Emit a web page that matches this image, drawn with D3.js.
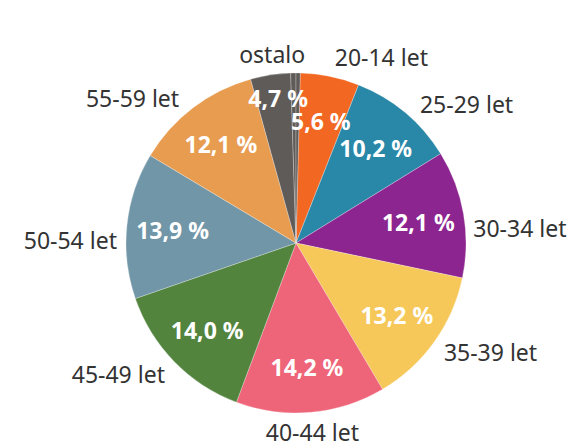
<!DOCTYPE html>
<html>
<head>
<meta charset="utf-8">
<script src="https://cdn.jsdelivr.net/npm/d3@7"></script>
<style>
  body { margin: 0; background: #fff; }
  svg { display: block; font-family: "Noto Sans", sans-serif; }
</style>
</head>
<body>
<svg id="chart" width="569" height="444"></svg>
<script>
// age groups, share of all (in %)
const categories = ["20-14 let", "25-29 let", "30-34 let", "35-39 let",
  "40-44 let", "45-49 let", "50-54 let", "55-59 let"];
const shares = [5.6, 10.2, 12.1, 13.2, 14.2, 14.0, 13.9, 12.1];
const colors = ["#f26722", "#2987a8", "#8c258f", "#f6c859",
  "#ee6478", "#52843e", "#7196a7", "#e89c50"];

// "ostalo" is made of a few tiny groups, drawn in one colour
const otherLabel = "ostalo";
const otherParts = [3.8, 0.5, 0.4];
const otherColor = "#5f5b58";

const width = 569, height = 444;
const cx = 296, cy = 243, radius = 170;

const fmt = d3.formatLocale({decimal: ",", thousands: ".", grouping: [3], currency: ["", " €"]})
  .format(".1f");

const svg = d3.select("#chart");
const g = svg.append("g").attr("transform", `translate(${cx},${cy})`);

// one row per drawn slice
let rows = categories.map((c, i) => ({group: c, value: shares[i], color: colors[i]}));
otherParts.forEach(v => rows.push({group: otherLabel, value: v, color: otherColor}));

// the last small part sits just across 12 o'clock
let total = d3.sum(rows, d => d.value);
let offset = otherParts[otherParts.length - 1] / total * 2 * Math.PI;

let pie = d3.pie()
  .sort(null)
  .value(d => d.value)
  .startAngle(offset)
  .endAngle(offset + 2 * Math.PI);

let arcs = pie(rows);
let arc = d3.arc().innerRadius(0).outerRadius(radius);

g.selectAll("path.slice")
  .data(arcs)
  .enter()
  .append("path")
  .attr("class", "slice")
  .attr("d", arc)
  .attr("fill", d => d.data.color)
  .attr("stroke", "#fff")
  .attr("stroke-opacity", 0.45)
  .attr("stroke-width", 0.6);

// groups for labels (ostalo = all its parts together)
let groups = d3.groups(arcs, d => d.data.group).map(([key, list]) => ({
  key: key,
  value: d3.sum(list, d => d.data.value),
  start: d3.min(list, d => d.startAngle),
  end: d3.max(list, d => d.endAngle)
}));
groups.forEach(d => { d.mid = (d.start + d.end) / 2; });

// values inside the slices
g.selectAll("text.value")
  .data(groups)
  .enter()
  .append("text")
  .attr("class", "value")
  .attr("x", d => Math.sin(d.mid) * radius * (d.value < 5 ? 0.86 : 0.73))
  .attr("y", d => -Math.cos(d.mid) * radius * (d.value < 5 ? 0.86 : 0.73))
  .attr("text-anchor", "middle")
  .attr("dominant-baseline", "central")
  .attr("fill", "#fff")
  .attr("font-weight", 700)
  .attr("font-size", "23px")
  .text(d => fmt(d.value) + " %");

// category names outside
let outer = g.selectAll("text.name")
  .data(groups)
  .enter()
  .append("text")
  .attr("class", "name")
  .attr("fill", "#333")
  .attr("font-size", "23px")
  .attr("dominant-baseline", "central")
  .attr("text-anchor", d => {
    let s = Math.sin(d.mid);
    if (Math.abs(s) < 0.15) return "middle";
    return s > 0 ? "start" : "end";
  })
  .text(d => d.key);

outer.each(function(d) {
  let el = d3.select(this);
  let dx = Math.sin(d.mid), dy = -Math.cos(d.mid);
  let c = Math.cos(d.mid);
  let shift = c > 0 ? 16 - 12 * c * c : 3;
  let x = dx * (radius + 10), y = dy * (radius + 10) + shift;
  // move out until the label clears the pie
  for (let k = 0; k < 60; k++) {
    el.attr("x", x).attr("y", y);
    let b = this.getBBox();
    let nx = Math.max(b.x, Math.min(0, b.x + b.width));
    let ny = Math.max(b.y + 3, Math.min(0, b.y + b.height - 3));
    if (Math.hypot(nx, ny) >= radius + 6) break;
    x += dx; y += dy;
  }
});
</script>
</body>
</html>
